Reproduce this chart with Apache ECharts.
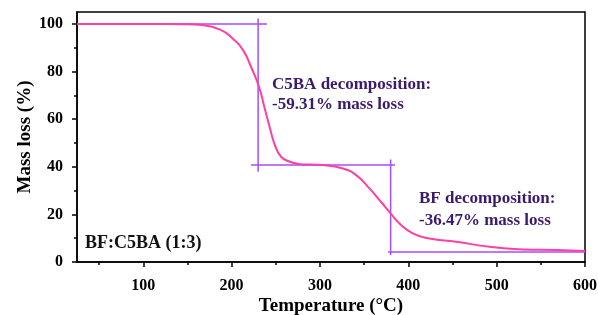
<!DOCTYPE html>
<html>
<head>
<meta charset="utf-8">
<script src="https://cdn.jsdelivr.net/npm/echarts@6/dist/echarts.min.js"></script>
<style>
  html, body { margin: 0; padding: 0; background: #fff; }
  #chart { width: 598px; height: 315px; }
</style>
</head>
<body>
<div id="chart"></div>
<script>
// TGA curve
const tempC = [25, 100, 150, 164, 187, 202, 213, 222, 231, 237, 243, 249, 256, 266, 277, 303, 326, 341, 356, 369, 380, 390, 405, 424, 454, 492, 529, 567, 600];
const massPct = [100, 100, 99.9, 99.6, 97.6, 93.6, 89, 82, 73.6, 65.2, 56.8, 49.1, 44.2, 42.1, 41.1, 40.7, 39.3, 36.5, 30.9, 25.3, 20.4, 16.2, 12, 9.9, 8.5, 6.4, 5.3, 5.0, 4.6];

// construction lines (temperature, mass)
const guideStart = [[25, 100], [240, 100]];
const guideStep1 = [[230, 102.3], [230, 37.9]];
const guideMid = [[222, 40.69], [385, 40.69]];
const guideStep2 = [[380, 43.1], [380, 2.9]];
const guideEnd = [[377, 4.22], [600, 4.22]];

const xTicks = [100, 200, 300, 400, 500, 600];
const xMinor = [50, 150, 250, 350, 450, 550];
const yTicks = [0, 20, 40, 60, 80, 100];
const yMinor = [10, 30, 50, 70, 90];

const serif = '"Liberation Serif", "DejaVu Serif", serif';
const curveColor = '#ff3fa4';
const guideColor = '#a64dff';
const noteColor = '#3b1a6e';

const chart = echarts.init(document.getElementById('chart'));

function guide(d) {
  return {
    type: 'line', data: d, symbol: 'none', silent: true,
    lineStyle: { color: guideColor, width: 1.5 }, z: 3
  };
}

const option = {
  animation: false,
  grid: {
    left: 77, right: 13, top: 12, bottom: 53,
    outerBoundsMode: 'none', containLabel: false,
    show: true, borderColor: '#000', borderWidth: 1.5
  },
  xAxis: [
    {
      type: 'value', min: 25, max: 600,
      name: 'Temperature (°C)', nameLocation: 'middle', nameGap: 35, nameMoveOverlap: false,
      nameTextStyle: { fontFamily: serif, fontWeight: 'bold', fontSize: 19, color: '#000' },
      axisLine: { lineStyle: { color: '#000', width: 1.5 } },
      axisTick: { customValues: xTicks, length: 5, lineStyle: { color: '#000', width: 1.5 } },
      axisLabel: { customValues: xTicks, margin: 16, fontFamily: serif, fontWeight: 'bold', fontSize: 16, color: '#000' },
      splitLine: { show: false }
    },
    {
      type: 'value', min: 25, max: 600, position: 'bottom',
      axisLine: { show: false },
      axisTick: { customValues: xMinor, length: 3, lineStyle: { color: '#000', width: 1.5 } },
      axisLabel: { show: false },
      splitLine: { show: false }
    }
  ],
  yAxis: [
    {
      type: 'value', min: 0, max: 105,
      name: 'Mass loss (%)', nameLocation: 'middle', nameGap: 42, nameMoveOverlap: false,
      nameTextStyle: { fontFamily: serif, fontWeight: 'bold', fontSize: 19, color: '#000' },
      axisLine: { show: true, lineStyle: { color: '#000', width: 1.5 } },
      axisTick: { show: true, customValues: yTicks, length: 5, lineStyle: { color: '#000', width: 1.5 } },
      axisLabel: { customValues: yTicks, margin: 14, fontFamily: serif, fontWeight: 'bold', fontSize: 16, color: '#000' },
      splitLine: { show: false }
    },
    {
      type: 'value', min: 0, max: 105, position: 'left',
      axisLine: { show: false },
      axisTick: { show: true, customValues: yMinor, length: 3, lineStyle: { color: '#000', width: 1.5 } },
      axisLabel: { show: false },
      splitLine: { show: false }
    }
  ],
  series: [
    guide(guideStart),
    guide(guideStep1),
    guide(guideMid),
    guide(guideStep2),
    guide(guideEnd),
    {
      type: 'line', smooth: 0.5, symbol: 'none',
      data: tempC.map((t, i) => [t, massPct[i]]),
      lineStyle: { color: curveColor, width: 2 }, z: 4
    }
  ],
  graphic: [
    { type: 'text', left: 272, top: 75, style: { text: 'C5BA decomposition:\n-59.31% mass loss', fill: noteColor, font: 'bold 17px ' + serif, lineHeight: 20 } },
    { type: 'text', left: 419, top: 188, style: { text: 'BF decomposition:\n-36.47% mass loss', fill: noteColor, font: 'bold 17px ' + serif, lineHeight: 22 } },
    { type: 'text', left: 85, top: 234, style: { text: 'BF:C5BA (1:3)', fill: '#111', font: 'bold 18px ' + serif } }
  ]
};

chart.setOption(option);
</script>
</body>
</html>
